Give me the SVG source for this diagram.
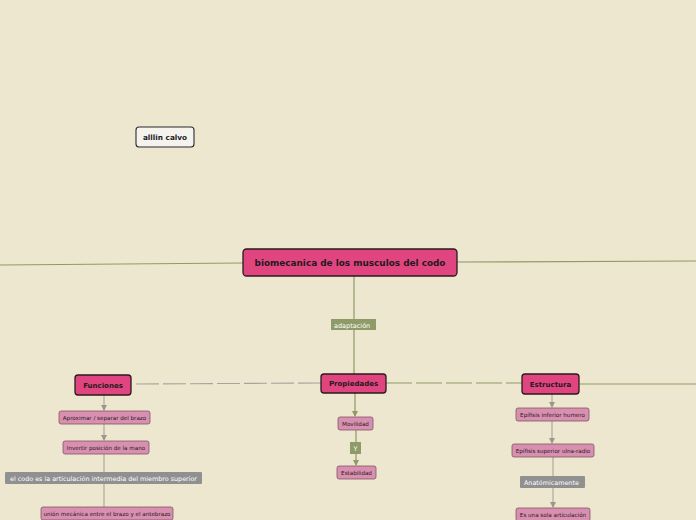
<svg xmlns="http://www.w3.org/2000/svg" width="696" height="520" viewBox="0 0 696 520">
<defs>
<style>
.main{fill:#E0457F;stroke:#2a1a1e;stroke-width:1.3}
.top{fill:#F4F3EE;stroke:#2a2a2a;stroke-width:1.1}
.sub{fill:#D98FB0;stroke:#7d5566;stroke-width:0.8}
.gl{fill:#909090}
.ol{fill:#8E9A68}
.t{font-family:"DejaVu Sans",sans-serif;fill:#1f1a1c;text-anchor:middle}
.b{font-weight:bold}
.w{font-family:"DejaVu Sans",sans-serif;fill:#ffffff}
.lo{stroke:#8E9A68;stroke-width:1.2;fill:none}
.lg{stroke:#A8A499;stroke-width:1.1;fill:none}
</style>
<marker id="ag" markerWidth="6" markerHeight="6" refX="5" refY="3" orient="auto" markerUnits="userSpaceOnUse"><path d="M0,0 L6,3 L0,6 z" fill="#9a978c"/></marker>
<marker id="ao" markerWidth="6" markerHeight="6" refX="5" refY="3" orient="auto" markerUnits="userSpaceOnUse"><path d="M0,0 L6,3 L0,6 z" fill="#8E9A68"/></marker>
</defs>
<rect width="696" height="520" fill="#EEE7D0"/>
<g id="connectors">
<path class="lo" d="M0,265 L243,263"/>
<path class="lo" d="M457,262 L696,261" stroke="#A3AC80"/>
<path class="lo" d="M354,276 L354,374"/>
<path class="lg" d="M136,384 L321,383" stroke-dasharray="23,4" stroke="#A39C86"/>
<path class="lo" d="M386,383 L522,383" stroke-dasharray="26,4" stroke="#8B8E6A"/>
<path class="lo" d="M580,384 L696,384" stroke="#A9B184"/>
<path class="lg" d="M104,395 L104,410" marker-end="url(#ag)"/>
<path class="lg" d="M104,424 L104,440" marker-end="url(#ag)"/>
<path class="lg" d="M104,454 L104,507" stroke="#C8C3B6"/>
<path class="lo" d="M355,393 L355,416" marker-end="url(#ao)"/>
<path class="lo" d="M356,430 L356,465" marker-end="url(#ao)"/>
<path class="lg" d="M552,394 L552,407" marker-end="url(#ag)"/>
<path class="lg" d="M552,421 L552,443" marker-end="url(#ag)"/>
<path class="lg" d="M553,457 L553,507" marker-end="url(#ag)"/>
</g>
<g id="alllin">
<rect class="top" x="136" y="127" width="58" height="20" rx="3"/>
<text class="t b" x="165" y="140" font-size="7.3">alllin calvo</text>
</g>
<g id="main">
<rect class="main" x="243" y="249" width="214" height="27" rx="3.5"/>
<text class="t b" x="350" y="266" font-size="8.9">biomecanica de los musculos del codo</text>
</g>
<g id="adaptacion">
<rect class="ol" x="331" y="319" width="45" height="11"/>
<text class="w" x="334" y="327.5" font-size="6.5">adaptación</text>
</g>
<g id="propiedades">
<rect class="main" x="321" y="374" width="65" height="19" rx="3"/>
<text class="t b" x="353.5" y="386" font-size="7">Propiedades</text>
</g>
<g id="funciones">
<rect class="main" x="75" y="375" width="56" height="20" rx="3"/>
<text class="t b" x="103" y="388" font-size="7">Funciones</text>
</g>
<g id="estructura">
<rect class="main" x="522" y="374" width="57" height="20" rx="3"/>
<text class="t b" x="550.5" y="387" font-size="7">Estructura</text>
</g>
<g id="aproximar">
<rect class="sub" x="59" y="411" width="91" height="13" rx="2"/>
<text class="t" x="104.5" y="419.8" font-size="5.6">Aproximar / separar del brazo</text>
</g>
<g id="invertir">
<rect class="sub" x="63" y="441" width="86" height="13" rx="2"/>
<text class="t" x="106" y="449.8" font-size="5.6">Invertir posición de la mano</text>
</g>
<g id="codo">
<rect class="gl" x="5" y="472" width="197" height="12" rx="1"/>
<text class="w" x="103.5" y="480.5" font-size="6.4" text-anchor="middle">el codo es la articulación intermedia del miembro superior</text>
</g>
<g id="union">
<rect class="sub" x="41" y="507" width="132" height="13" rx="2"/>
<text class="t" x="107" y="515.8" font-size="5.6">unión mecánica entre el brazo y el antebrazo</text>
</g>
<g id="movilidad">
<rect class="sub" x="338" y="417" width="35" height="13" rx="2"/>
<text class="t" x="355.5" y="425.8" font-size="5.6">Movilidad</text>
</g>
<g id="y">
<rect class="ol" x="350" y="442" width="11" height="12"/>
<text class="w" x="355.5" y="450.5" font-size="6.4" text-anchor="middle">Y</text>
</g>
<g id="estabilidad">
<rect class="sub" x="337" y="466" width="39" height="13" rx="2"/>
<text class="t" x="356.5" y="474.8" font-size="5.6">Estabilidad</text>
</g>
<g id="epifisis-inf">
<rect class="sub" x="516" y="408" width="73" height="13" rx="2"/>
<text class="t" x="552.5" y="416.8" font-size="5.6">Epífisis inferior humero</text>
</g>
<g id="epifisis-sup">
<rect class="sub" x="512" y="444" width="82" height="13" rx="2"/>
<text class="t" x="553" y="452.8" font-size="5.6">Epífisis superior ulna-radio</text>
</g>
<g id="anatomicamente">
<rect class="gl" x="520" y="476" width="65" height="12" rx="1"/>
<text class="w" x="524" y="484.5" font-size="6.4">Anatómicamente</text>
</g>
<g id="sola">
<rect class="sub" x="516" y="508" width="74" height="13" rx="2"/>
<text class="t" x="553" y="516.8" font-size="5.6">Es una sola articulación</text>
</g>
</svg>
